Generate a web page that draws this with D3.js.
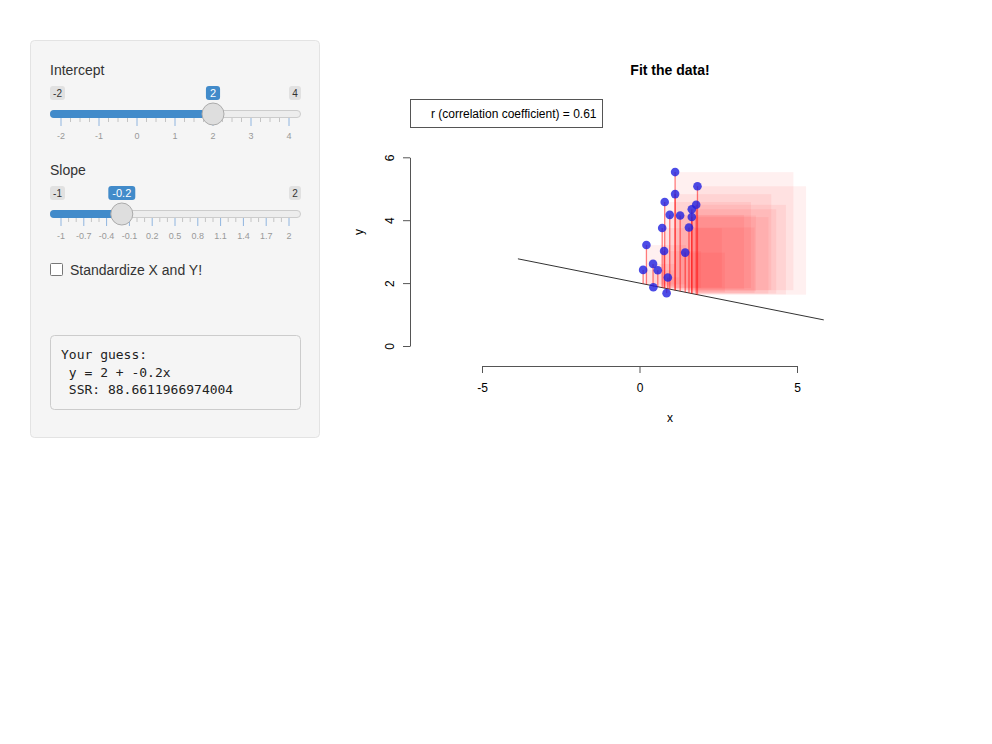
<!DOCTYPE html>
<html>
<head>
<meta charset="utf-8">
<script src="https://cdn.jsdelivr.net/npm/d3@7"></script>
<style>
  body { margin: 0; background: #fff; }
  svg text { font-family: "Liberation Sans", Arial, sans-serif; }
  .mono { font-family: "DejaVu Sans Mono", monospace !important; white-space: pre; }
</style>
</head>
<body>
<div id="main-chart"></div>
<script>
// Data
var xVals = [0.115, 0.22, 0.43, 0.44, 0.58, 0.72, 0.80, 0.78, 0.86, 0.90,
             0.96, 1.13, 1.13, 1.29, 1.45, 1.57, 1.66, 1.66, 1.80, 1.84];
var yVals = [2.42, 3.21, 2.61, 1.87, 2.41, 3.75, 4.58, 3.02, 1.68, 2.18,
             4.17, 5.53, 4.83, 4.15, 2.97, 3.77, 4.35, 4.10, 4.49, 5.08];
var intercept = 2;
var slope = -0.2;
var lineRange = [-3.86, 5.85];
var xTicks = [-5, 0, 5];
var yTicks = [0, 2, 4, 6];
var corrText = "r (correlation coefficient) = 0.61";
var guessLines = ["Your guess:", " y = 2 + -0.2x", " SSR: 88.6611966974004"];

var interceptGrid = [-2, -1, 0, 1, 2, 3, 4];
var slopeGrid = [-1, -0.7, -0.4, -0.1, 0.2, 0.5, 0.8, 1.1, 1.4, 1.7, 2];

var points = xVals.map(function(x, i) {
  var fit = intercept + slope * x;
  return { x: x, y: yVals[i], fit: fit, res: yVals[i] - fit };
});

var svg = d3.select("#main-chart")
  .append("svg")
  .attr("width", 992)
  .attr("height", 744);

// ---------- sidebar panel ----------
var panel = svg.append("g");

panel.append("rect")
  .attr("x", 30.5).attr("y", 40.5)
  .attr("width", 289).attr("height", 397)
  .attr("rx", 4)
  .attr("fill", "#f5f5f5")
  .attr("stroke", "#e3e3e3");

function drawSlider(g, label, top, grid, value, minor) {
  var s = d3.scaleLinear()
    .domain([grid[0], grid[grid.length - 1]])
    .range([61, 289]);

  g.append("text")
    .attr("x", 50).attr("y", top)
    .attr("fill", "#333")
    .style("font-size", "14px")
    .text(label);

  // min / max badges
  [[grid[0], 50, 65], [grid[grid.length - 1], 289, 301]].forEach(function(b) {
    g.append("rect")
      .attr("x", b[1]).attr("y", top + 11)
      .attr("width", b[2] - b[1]).attr("height", 14)
      .attr("rx", 3)
      .attr("fill", "#e1e1e1");
    g.append("text")
      .attr("x", (b[1] + b[2]) / 2).attr("y", top + 22)
      .attr("text-anchor", "middle")
      .attr("fill", "#333")
      .style("font-size", "10px")
      .text(b[0]);
  });

  // track
  g.append("rect")
    .attr("x", 50.5).attr("y", top + 35.5)
    .attr("width", 250).attr("height", 7)
    .attr("rx", 3.5)
    .attr("fill", "#ededed")
    .attr("stroke", "#cccccc");
  g.append("rect")
    .attr("x", 50).attr("y", top + 35)
    .attr("width", s(value) - 50).attr("height", 8)
    .attr("rx", 4)
    .attr("fill", "#428bca");

  // grid ticks
  var step = grid[1] - grid[0];
  grid.forEach(function(v, i) {
    g.append("line")
      .attr("x1", s(v)).attr("x2", s(v))
      .attr("y1", top + 43).attr("y2", top + 51)
      .attr("stroke", "#90b5df");
    g.append("text")
      .attr("x", s(v)).attr("y", top + 64)
      .attr("text-anchor", "middle")
      .attr("fill", "#999")
      .style("font-size", "9px")
      .text(v);
    if (i < grid.length - 1) {
      for (var k = 1; k <= minor; k++) {
        var mx = s(v + step * k / (minor + 1));
        g.append("line")
          .attr("x1", mx).attr("x2", mx)
          .attr("y1", top + 43).attr("y2", top + 47)
          .attr("stroke", "#c4c4c4");
      }
    }
  });

  // handle
  g.append("circle")
    .attr("cx", s(value)).attr("cy", top + 39)
    .attr("r", 11)
    .attr("fill", "#dedede")
    .attr("stroke", "#ababab");

  // value badge
  var vt = g.append("text")
    .attr("x", s(value)).attr("y", top + 22)
    .attr("text-anchor", "middle")
    .attr("fill", "#fff")
    .style("font-size", "11px")
    .text(value);
  var w = vt.node().getComputedTextLength() + 8;
  g.insert("rect", "text:last-of-type")
    .attr("x", s(value) - w / 2).attr("y", top + 11)
    .attr("width", w).attr("height", 14)
    .attr("rx", 3)
    .attr("fill", "#428bca");
  vt.raise();
}

drawSlider(panel.append("g"), "Intercept", 75, interceptGrid, intercept, 3);
drawSlider(panel.append("g"), "Slope", 175, slopeGrid, slope, 2);

// checkbox
panel.append("rect")
  .attr("x", 50.5).attr("y", 263.5)
  .attr("width", 12).attr("height", 12)
  .attr("rx", 1)
  .attr("fill", "#fff")
  .attr("stroke", "#777");
panel.append("text")
  .attr("x", 70).attr("y", 275)
  .attr("fill", "#333")
  .style("font-size", "14px")
  .text("Standardize X and Y!");

// verbatim output
panel.append("rect")
  .attr("x", 50.5).attr("y", 335.5)
  .attr("width", 250).attr("height", 74)
  .attr("rx", 4)
  .attr("fill", "#f5f5f5")
  .attr("stroke", "#cccccc");
panel.selectAll(".guess")
  .data(guessLines)
  .enter()
  .append("text")
  .attr("class", "mono")
  .attr("x", 61)
  .attr("y", function(d, i) { return 359 + i * 17.5; })
  .attr("fill", "#222")
  .style("font-size", "13px")
  .text(function(d) { return d; });

// ---------- plot ----------
var xScale = d3.scaleLinear().domain([-5, 5]).range([482, 797]);
var yScale = d3.scaleLinear().domain([0, 6]).range([346, 157.3]);

var plot = svg.append("g");

plot.append("text")
  .attr("x", 670).attr("y", 75)
  .attr("text-anchor", "middle")
  .style("font-size", "14px")
  .style("font-weight", "bold")
  .text("Fit the data!");

// legend box
plot.append("rect")
  .attr("x", 410.5).attr("y", 99.5)
  .attr("width", 192).attr("height", 28)
  .attr("fill", "#fff")
  .attr("stroke", "#555");
plot.append("text")
  .attr("x", 431).attr("y", 117.5)
  .style("font-size", "12px")
  .text(corrText);

// residual squares
plot.selectAll(".sq")
  .data(points)
  .enter()
  .append("rect")
  .attr("x", function(d) { return xScale(d.x); })
  .attr("y", function(d) { return yScale(Math.max(d.y, d.fit)); })
  .attr("width", function(d) { return xScale(d.x + Math.abs(d.res)) - xScale(d.x); })
  .attr("height", function(d) { return yScale(Math.min(d.y, d.fit)) - yScale(Math.max(d.y, d.fit)); })
  .attr("fill", "red")
  .attr("fill-opacity", 0.06);

// guess line
plot.append("line")
  .attr("x1", xScale(lineRange[0]))
  .attr("y1", yScale(intercept + slope * lineRange[0]))
  .attr("x2", xScale(lineRange[1]))
  .attr("y2", yScale(intercept + slope * lineRange[1]))
  .attr("stroke", "#333")
  .attr("stroke-width", 1);

// residual segments
plot.selectAll(".seg")
  .data(points)
  .enter()
  .append("line")
  .attr("x1", function(d) { return xScale(d.x); })
  .attr("x2", function(d) { return xScale(d.x); })
  .attr("y1", function(d) { return yScale(d.y); })
  .attr("y2", function(d) { return yScale(d.fit); })
  .attr("stroke", "red")
  .attr("stroke-opacity", 0.5)
  .attr("stroke-width", 1.3);

// points
plot.selectAll(".dot")
  .data(points)
  .enter()
  .append("circle")
  .attr("cx", function(d) { return xScale(d.x); })
  .attr("cy", function(d) { return yScale(d.y); })
  .attr("r", 4.3)
  .attr("fill", "#1f1fe0")
  .attr("fill-opacity", 0.8);

// x axis
var xAxis = plot.append("g")
  .attr("transform", "translate(0,366)")
  .call(d3.axisBottom(xScale).tickValues(xTicks).tickFormat(String)
    .tickSize(7).tickSizeOuter(0).tickPadding(10));
// y axis
var yAxis = plot.append("g")
  .attr("transform", "translate(410,0)")
  .call(d3.axisLeft(yScale).tickValues(yTicks).tickFormat(String)
    .tickSize(7).tickSizeOuter(0));

[xAxis, yAxis].forEach(function(a) {
  a.select(".domain").attr("stroke", "#555");
  a.selectAll(".tick line").attr("stroke", "#555");
  a.selectAll(".tick text")
    .attr("fill", "#000")
    .style("font-size", "12px")
    .style("font-family", "Liberation Sans, Arial, sans-serif");
});

yAxis.selectAll(".tick text")
  .attr("transform", "rotate(-90)")
  .attr("x", 0)
  .attr("y", -16.5)
  .attr("dy", 0)
  .attr("text-anchor", "middle");

// axis labels
plot.append("text")
  .attr("x", 670).attr("y", 422)
  .attr("text-anchor", "middle")
  .style("font-size", "12px")
  .text("x");
plot.append("text")
  .attr("transform", "translate(363,232) rotate(-90)")
  .attr("text-anchor", "middle")
  .style("font-size", "12px")
  .text("y");
</script>
</body>
</html>
